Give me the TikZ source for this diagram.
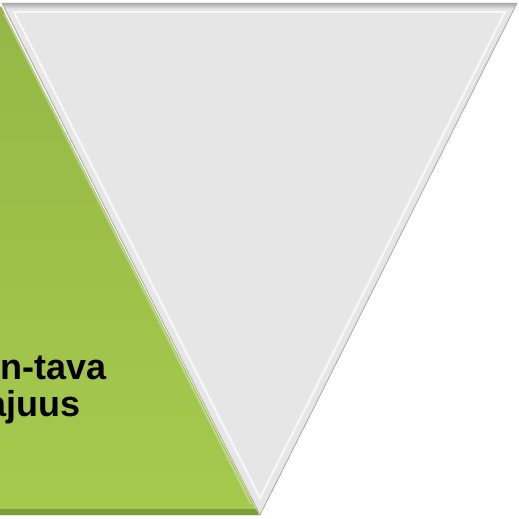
\documentclass[tikz,border=0pt]{standalone}
\usepackage{fontspec}
\setmainfont{Liberation Sans}
\usepackage{tikz}
\usetikzlibrary{calc}
\definecolor{greentop}{HTML}{95B746}
\definecolor{greenbot}{HTML}{A6CA4F}
\definecolor{greenedge}{HTML}{7D9C3A}
\definecolor{grayfill}{HTML}{E6E6E6}
\definecolor{grayedge}{HTML}{A9A9A9}

\begin{document}
\begin{tikzpicture}[x=1pt,y=-1pt,
  label/.style={font=\bfseries\fontsize{36}{37}\selectfont, anchor=base east, inner sep=0pt}]
\useasboundingbox (0,0) rectangle (519,519);
\clip (0,0) rectangle (519,519);
% green triangle
\shade[top color=greentop, bottom color=greenbot] (1,6)--(259,515)--(-257,515)--cycle;
\fill[greenedge] (-254,509)--(256,509)--(259,515)--(-257,515)--cycle;
\draw[white, opacity=0.35, line width=1.5] (4,14)--(251,504);
% gray triangle
\fill[grayfill] (2,3)--(517,3)--(260,515)--cycle;
\shade[top color=grayedge, bottom color=grayfill] (2,3)--(517,3)--(514,9)--(5,9)--cycle;
\draw[white, opacity=0.7, line width=2] (14,12)--(505,12)--(260,498)--cycle;
\draw[grayedge, line width=0.8] (517,3)--(260,515)--(2,3);
% texts
\path (107,379) node[label] (line1) {n-tava};
\path (81,416) node[label] (line2) {ajuus};
\end{tikzpicture}
\end{document}
